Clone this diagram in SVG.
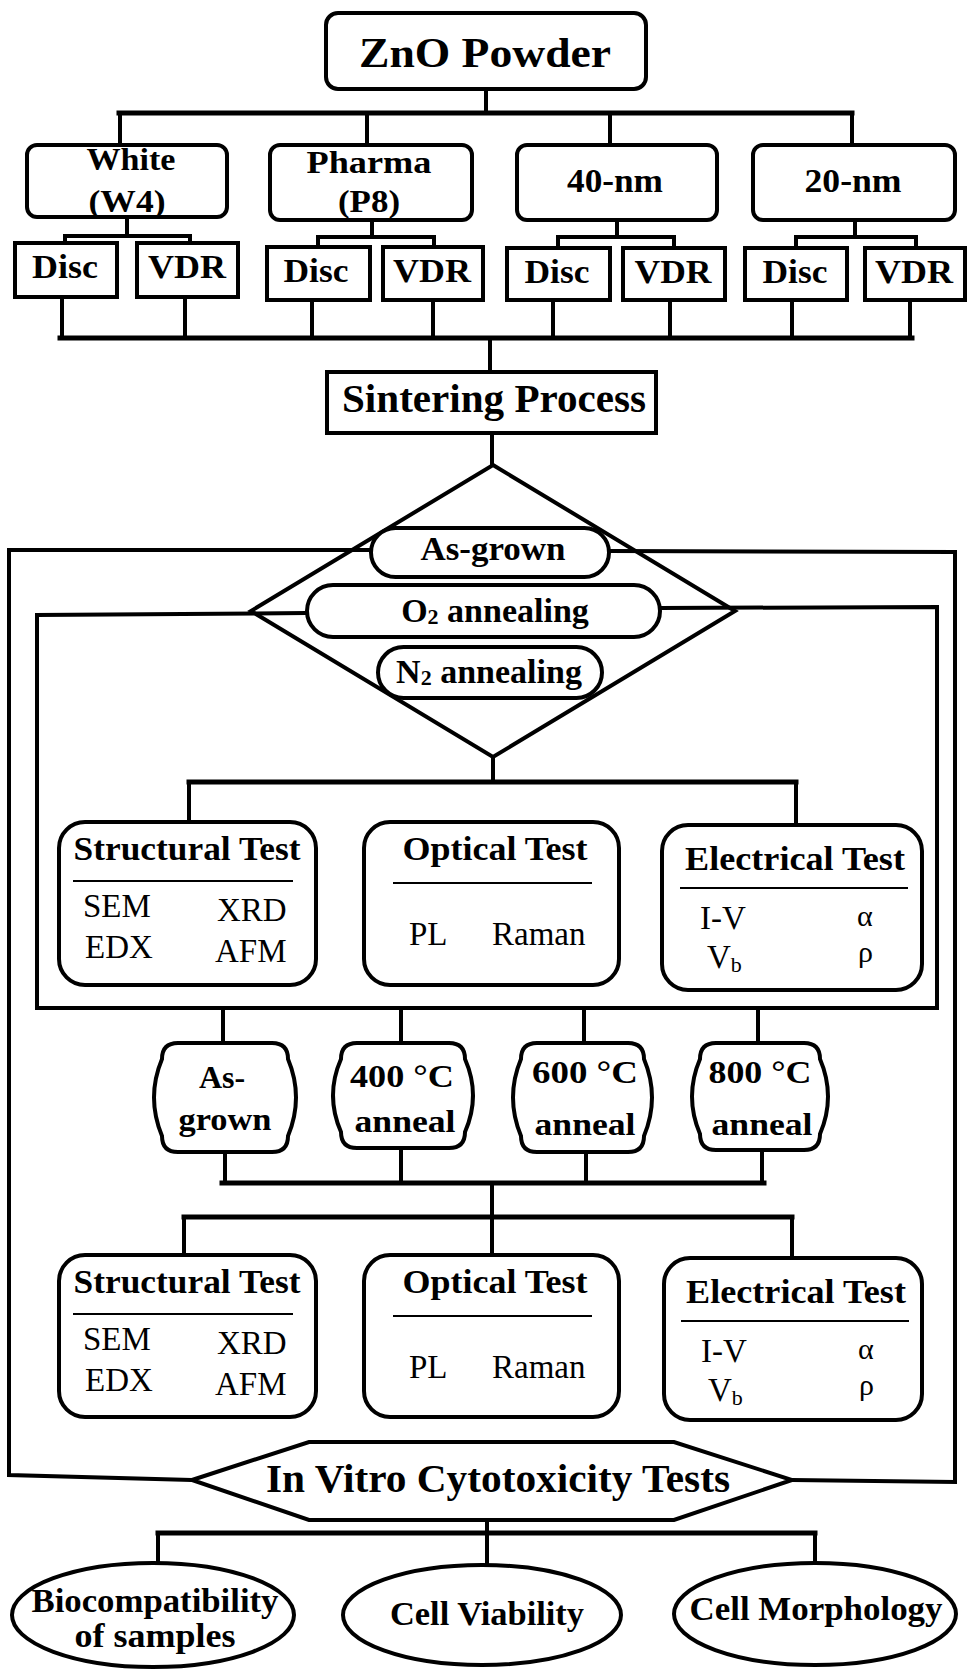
<svg xmlns="http://www.w3.org/2000/svg" width="970" height="1674" viewBox="0 0 970 1674">
  <style>
    .ln { stroke: #000; stroke-width: 4; fill: none; stroke-linecap: square; }
    .bus { stroke: #000; stroke-width: 5; fill: none; stroke-linecap: square; }
    .bx { fill: #fff; stroke: #000; stroke-width: 4; }
    .open { fill: none; stroke: #000; stroke-width: 4; stroke-linejoin: miter; }
    .rule { stroke: #000; stroke-width: 2; }
    .b { font-family: "Liberation Serif", "Times New Roman", serif; font-weight: bold; text-anchor: middle; fill: #000; }
    .r { font-family: "Liberation Serif", "Times New Roman", serif; font-weight: normal; fill: #000; }
    .g { font-family: "Liberation Serif", "Times New Roman", serif; font-weight: normal; fill: #000; font-size: 30px; }
  </style>
  <rect width="970" height="1674" fill="#fff"/>

  <!-- connectors -->
  <g id="connectors">
    <!-- powder to sample types -->
    <line class="ln" x1="486" y1="89" x2="486" y2="113"/>
    <line class="bus" x1="119" y1="113" x2="852" y2="113"/>
    <line class="ln" x1="120" y1="113" x2="120" y2="145"/>
    <line class="ln" x1="367" y1="113" x2="367" y2="145"/>
    <line class="ln" x1="610" y1="113" x2="610" y2="145"/>
    <line class="ln" x1="852" y1="113" x2="852" y2="145"/>
    <!-- sample types to Disc / VDR -->
    <polyline class="ln" points="127,217 127,236"/>
    <polyline class="ln" points="65,243 65,236 190,236 190,243"/>
    <polyline class="ln" points="372,220 372,237"/>
    <polyline class="ln" points="318,247 318,237 434,237 434,247"/>
    <polyline class="ln" points="617,220 617,237"/>
    <polyline class="ln" points="558,248 558,237 674,237 674,248"/>
    <polyline class="ln" points="855,220 855,237"/>
    <polyline class="ln" points="796,248 796,237 916,237 916,248"/>
    <!-- Disc / VDR to sintering -->
    <line class="ln" x1="62" y1="297" x2="62" y2="338"/>
    <line class="ln" x1="185" y1="297" x2="185" y2="338"/>
    <line class="ln" x1="312" y1="300" x2="312" y2="338"/>
    <line class="ln" x1="433" y1="300" x2="433" y2="338"/>
    <line class="ln" x1="553" y1="300" x2="553" y2="338"/>
    <line class="ln" x1="670" y1="300" x2="670" y2="338"/>
    <line class="ln" x1="792" y1="300" x2="792" y2="338"/>
    <line class="ln" x1="910" y1="300" x2="910" y2="338"/>
    <line class="bus" x1="60" y1="338" x2="912" y2="338"/>
    <line class="ln" x1="490" y1="338" x2="490" y2="372"/>
    <line class="ln" x1="492" y1="433" x2="492" y2="465"/>
    <!-- annealing choice to first test set -->
    <line class="ln" x1="493" y1="757" x2="493" y2="782"/>
    <line class="bus" x1="189" y1="782" x2="796" y2="782"/>
    <line class="ln" x1="189" y1="782" x2="189" y2="822"/>
    <line class="ln" x1="796" y1="782" x2="796" y2="825"/>
    <!-- outer frame (as-grown route) -->
    <polyline class="open" points="371,550 9,550 9,1475 192,1480"/>
    <polyline class="open" points="609,551 955,552 955,1482 792,1480"/>
    <!-- inner frame (annealing route) -->
    <polyline class="open" points="307,613 37,615 37,1008 937,1008 937,607 660,608"/>
    <!-- frame to temperature steps -->
    <line class="ln" x1="223" y1="1008" x2="223" y2="1043"/>
    <line class="ln" x1="401" y1="1008" x2="401" y2="1043"/>
    <line class="ln" x1="584" y1="1008" x2="584" y2="1043"/>
    <line class="ln" x1="758" y1="1008" x2="758" y2="1043"/>
    <!-- temperature steps to second test set -->
    <line class="ln" x1="225" y1="1150" x2="225" y2="1183"/>
    <line class="ln" x1="401" y1="1147" x2="401" y2="1183"/>
    <line class="ln" x1="586" y1="1150" x2="586" y2="1183"/>
    <line class="ln" x1="762" y1="1149" x2="762" y2="1183"/>
    <line class="bus" x1="222" y1="1183" x2="764" y2="1183"/>
    <line class="ln" x1="492" y1="1183" x2="492" y2="1255"/>
    <line class="bus" x1="184" y1="1217" x2="792" y2="1217"/>
    <line class="ln" x1="184" y1="1217" x2="184" y2="1255"/>
    <line class="ln" x1="792" y1="1217" x2="792" y2="1258"/>
    <!-- cytotoxicity to outcomes -->
    <line class="ln" x1="487" y1="1520" x2="487" y2="1533"/>
    <line class="bus" x1="158" y1="1533" x2="815" y2="1533"/>
    <line class="ln" x1="158" y1="1533" x2="158" y2="1563"/>
    <line class="ln" x1="487" y1="1533" x2="487" y2="1565"/>
    <line class="ln" x1="815" y1="1533" x2="815" y2="1563"/>
  </g>

  <!-- source powder -->
  <g id="zno-powder">
    <rect class="bx" x="326" y="13" width="320" height="76" rx="12"/>
    <text class="b" x="485" y="67" font-size="43" textLength="252" lengthAdjust="spacingAndGlyphs">ZnO Powder</text>
  </g>

  <!-- powder grades -->
  <g id="white-w4">
    <rect class="bx" x="27" y="145" width="200" height="72" rx="10"/>
    <text class="b" x="131" y="170" font-size="32" textLength="89" lengthAdjust="spacingAndGlyphs">White</text>
    <text class="b" x="127" y="212" font-size="32" textLength="77" lengthAdjust="spacingAndGlyphs">(W4)</text>
  </g>
  <g id="pharma-p8">
    <rect class="bx" x="270" y="145" width="202" height="75" rx="10"/>
    <text class="b" x="369" y="173" font-size="32" textLength="125" lengthAdjust="spacingAndGlyphs">Pharma</text>
    <text class="b" x="369" y="212" font-size="32" textLength="62" lengthAdjust="spacingAndGlyphs">(P8)</text>
  </g>
  <g id="nm-40">
    <rect class="bx" x="517" y="145" width="200" height="75" rx="10"/>
    <text class="b" x="615" y="192" font-size="33" textLength="96" lengthAdjust="spacingAndGlyphs">40-nm</text>
  </g>
  <g id="nm-20">
    <rect class="bx" x="753" y="145" width="202" height="75" rx="10"/>
    <text class="b" x="853" y="192" font-size="33" textLength="97" lengthAdjust="spacingAndGlyphs">20-nm</text>
  </g>

  <!-- sample forms -->
  <g id="w4-disc">
    <rect class="bx" x="15" y="243" width="102" height="54"/>
    <text class="b" x="65" y="278" font-size="33" textLength="66" lengthAdjust="spacingAndGlyphs">Disc</text>
  </g>
  <g id="w4-vdr">
    <rect class="bx" x="137" y="243" width="101" height="54"/>
    <text class="b" x="187" y="278" font-size="33" textLength="78" lengthAdjust="spacingAndGlyphs">VDR</text>
  </g>
  <g id="p8-disc">
    <rect class="bx" x="267" y="247" width="103" height="53"/>
    <text class="b" x="316" y="282" font-size="33" textLength="65" lengthAdjust="spacingAndGlyphs">Disc</text>
  </g>
  <g id="p8-vdr">
    <rect class="bx" x="383" y="247" width="100" height="53"/>
    <text class="b" x="432" y="282" font-size="33" textLength="78" lengthAdjust="spacingAndGlyphs">VDR</text>
  </g>
  <g id="nm40-disc">
    <rect class="bx" x="507" y="248" width="103" height="52"/>
    <text class="b" x="557" y="283" font-size="33" textLength="65" lengthAdjust="spacingAndGlyphs">Disc</text>
  </g>
  <g id="nm40-vdr">
    <rect class="bx" x="623" y="248" width="102" height="52"/>
    <text class="b" x="673" y="283" font-size="33" textLength="77" lengthAdjust="spacingAndGlyphs">VDR</text>
  </g>
  <g id="nm20-disc">
    <rect class="bx" x="745" y="248" width="102" height="52"/>
    <text class="b" x="795" y="283" font-size="33" textLength="65" lengthAdjust="spacingAndGlyphs">Disc</text>
  </g>
  <g id="nm20-vdr">
    <rect class="bx" x="865" y="248" width="100" height="52"/>
    <text class="b" x="914" y="283" font-size="33" textLength="78" lengthAdjust="spacingAndGlyphs">VDR</text>
  </g>

  <!-- sintering -->
  <g id="sintering">
    <rect class="bx" x="327" y="372" width="329" height="61"/>
    <text class="b" x="494" y="412" font-size="39" textLength="304" lengthAdjust="spacingAndGlyphs">Sintering Process</text>
  </g>

  <!-- treatment choice -->
  <g id="treatment">
    <polygon class="open" points="493,465 735,611 493,757 251,611"/>
  </g>
  <g id="as-grown">
    <rect class="bx" x="371" y="528" width="238" height="49" rx="24.5"/>
    <text class="b" x="493" y="560" font-size="33" textLength="145" lengthAdjust="spacingAndGlyphs">As-grown</text>
  </g>
  <g id="o2-annealing">
    <rect class="bx" x="307" y="585" width="353" height="52" rx="26"/>
    <text class="b" x="495" y="622" font-size="34">O<tspan font-size="22" dy="2">2</tspan><tspan dy="-2"> annealing</tspan></text>
  </g>
  <g id="n2-annealing">
    <rect class="bx" x="378" y="647" width="224" height="51" rx="25.5"/>
    <text class="b" x="489" y="683" font-size="34">N<tspan font-size="22" dy="2">2</tspan><tspan dy="-2"> annealing</tspan></text>
  </g>

  <!-- first test set -->
  <g id="structural-1">
    <rect class="bx" x="59" y="822" width="257" height="163" rx="26"/>
    <text class="b" x="187" y="860" font-size="33" textLength="227" lengthAdjust="spacingAndGlyphs">Structural Test</text>
    <line class="rule" x1="73" y1="881" x2="293" y2="881"/>
    <text class="r" x="83" y="917" font-size="33">SEM</text>
    <text class="r" x="217" y="921" font-size="33">XRD</text>
    <text class="r" x="85" y="958" font-size="33">EDX</text>
    <text class="r" x="215" y="962" font-size="33">AFM</text>
  </g>
  <g id="optical-1">
    <rect class="bx" x="364" y="822" width="255" height="163" rx="26"/>
    <text class="b" x="495" y="860" font-size="33" textLength="185" lengthAdjust="spacingAndGlyphs">Optical Test</text>
    <line class="rule" x1="393" y1="883" x2="592" y2="883"/>
    <text class="r" x="409" y="945" font-size="33">PL</text>
    <text class="r" x="492" y="945" font-size="33">Raman</text>
  </g>
  <g id="electrical-1">
    <rect class="bx" x="662" y="825" width="260" height="165" rx="26"/>
    <text class="b" x="795" y="870" font-size="33" textLength="220" lengthAdjust="spacingAndGlyphs">Electrical Test</text>
    <line class="rule" x1="680" y1="888" x2="908" y2="888"/>
    <text class="r" x="700" y="929" font-size="33">I-V</text>
    <text class="g" x="857" y="926">α</text>
    <text class="r" x="707" y="968" font-size="33">V<tspan font-size="22" dy="4">b</tspan></text>
    <text class="g" x="858" y="962">ρ</text>
  </g>

  <!-- temperature steps -->
  <g id="t-as-grown">
    <path class="bx" d="M178,1043 H272 Q288,1043 288,1059 Q304,1097.5 288,1136 Q288,1152 272,1152 H178 Q162,1152 162,1136 Q146,1097.5 162,1059 Q162,1043 178,1043 Z"/>
    <text class="b" x="222" y="1088" font-size="32">As-</text>
    <text class="b" x="225" y="1130" font-size="32" textLength="93" lengthAdjust="spacingAndGlyphs">grown</text>
  </g>
  <g id="t-400">
    <path class="bx" d="M357,1043 H449 Q465,1043 465,1059 Q481,1095.5 465,1132 Q465,1148 449,1148 H357 Q341,1148 341,1132 Q325,1095.5 341,1059 Q341,1043 357,1043 Z"/>
    <text class="b" x="402" y="1087" font-size="32" textLength="104" lengthAdjust="spacingAndGlyphs">400 °C</text>
    <text class="b" x="405" y="1132" font-size="32" textLength="101" lengthAdjust="spacingAndGlyphs">anneal</text>
  </g>
  <g id="t-600">
    <path class="bx" d="M537,1043 H628 Q644,1043 644,1059 Q660,1097.5 644,1136 Q644,1152 628,1152 H537 Q521,1152 521,1136 Q505,1097.5 521,1059 Q521,1043 537,1043 Z"/>
    <text class="b" x="585" y="1083" font-size="32" textLength="106" lengthAdjust="spacingAndGlyphs">600 °C</text>
    <text class="b" x="585" y="1135" font-size="32" textLength="101" lengthAdjust="spacingAndGlyphs">anneal</text>
  </g>
  <g id="t-800">
    <path class="bx" d="M716,1043 H804 Q820,1043 820,1059 Q836,1096.5 820,1134 Q820,1150 804,1150 H716 Q700,1150 700,1134 Q684,1096.5 700,1059 Q700,1043 716,1043 Z"/>
    <text class="b" x="760" y="1083" font-size="32" textLength="103" lengthAdjust="spacingAndGlyphs">800 °C</text>
    <text class="b" x="762" y="1135" font-size="32" textLength="101" lengthAdjust="spacingAndGlyphs">anneal</text>
  </g>

  <!-- second test set -->
  <g id="structural-2">
    <rect class="bx" x="59" y="1255" width="257" height="162" rx="26"/>
    <text class="b" x="187" y="1293" font-size="33" textLength="227" lengthAdjust="spacingAndGlyphs">Structural Test</text>
    <line class="rule" x1="73" y1="1314" x2="293" y2="1314"/>
    <text class="r" x="83" y="1350" font-size="33">SEM</text>
    <text class="r" x="217" y="1354" font-size="33">XRD</text>
    <text class="r" x="85" y="1391" font-size="33">EDX</text>
    <text class="r" x="215" y="1395" font-size="33">AFM</text>
  </g>
  <g id="optical-2">
    <rect class="bx" x="364" y="1255" width="255" height="162" rx="26"/>
    <text class="b" x="495" y="1293" font-size="33" textLength="185" lengthAdjust="spacingAndGlyphs">Optical Test</text>
    <line class="rule" x1="393" y1="1316" x2="592" y2="1316"/>
    <text class="r" x="409" y="1378" font-size="33">PL</text>
    <text class="r" x="492" y="1378" font-size="33">Raman</text>
  </g>
  <g id="electrical-2">
    <rect class="bx" x="664" y="1258" width="258" height="162" rx="26"/>
    <text class="b" x="796" y="1303" font-size="33" textLength="220" lengthAdjust="spacingAndGlyphs">Electrical Test</text>
    <line class="rule" x1="681" y1="1321" x2="909" y2="1321"/>
    <text class="r" x="701" y="1362" font-size="33">I-V</text>
    <text class="g" x="858" y="1359">α</text>
    <text class="r" x="708" y="1401" font-size="33">V<tspan font-size="22" dy="4">b</tspan></text>
    <text class="g" x="859" y="1395">ρ</text>
  </g>

  <!-- cytotoxicity -->
  <g id="cytotoxicity">
    <polygon class="bx" points="192,1480 309,1442 674,1442 792,1480 674,1520 309,1520"/>
    <text class="b" x="498" y="1492" font-size="40" textLength="464" lengthAdjust="spacingAndGlyphs">In Vitro Cytotoxicity Tests</text>
  </g>

  <!-- outcomes -->
  <g id="biocompatibility">
    <ellipse class="bx" cx="153" cy="1615" rx="141" ry="52"/>
    <text class="b" x="155" y="1612" font-size="33" textLength="247" lengthAdjust="spacingAndGlyphs">Biocompatibility</text>
    <text class="b" x="155" y="1647" font-size="33" textLength="161" lengthAdjust="spacingAndGlyphs">of samples</text>
  </g>
  <g id="cell-viability">
    <ellipse class="bx" cx="482" cy="1615" rx="139" ry="50"/>
    <text class="b" x="487" y="1625" font-size="33" textLength="194" lengthAdjust="spacingAndGlyphs">Cell Viability</text>
  </g>
  <g id="cell-morphology">
    <ellipse class="bx" cx="815" cy="1614" rx="141" ry="51"/>
    <text class="b" x="816" y="1620" font-size="33" textLength="253" lengthAdjust="spacingAndGlyphs">Cell Morphology</text>
  </g>
</svg>
